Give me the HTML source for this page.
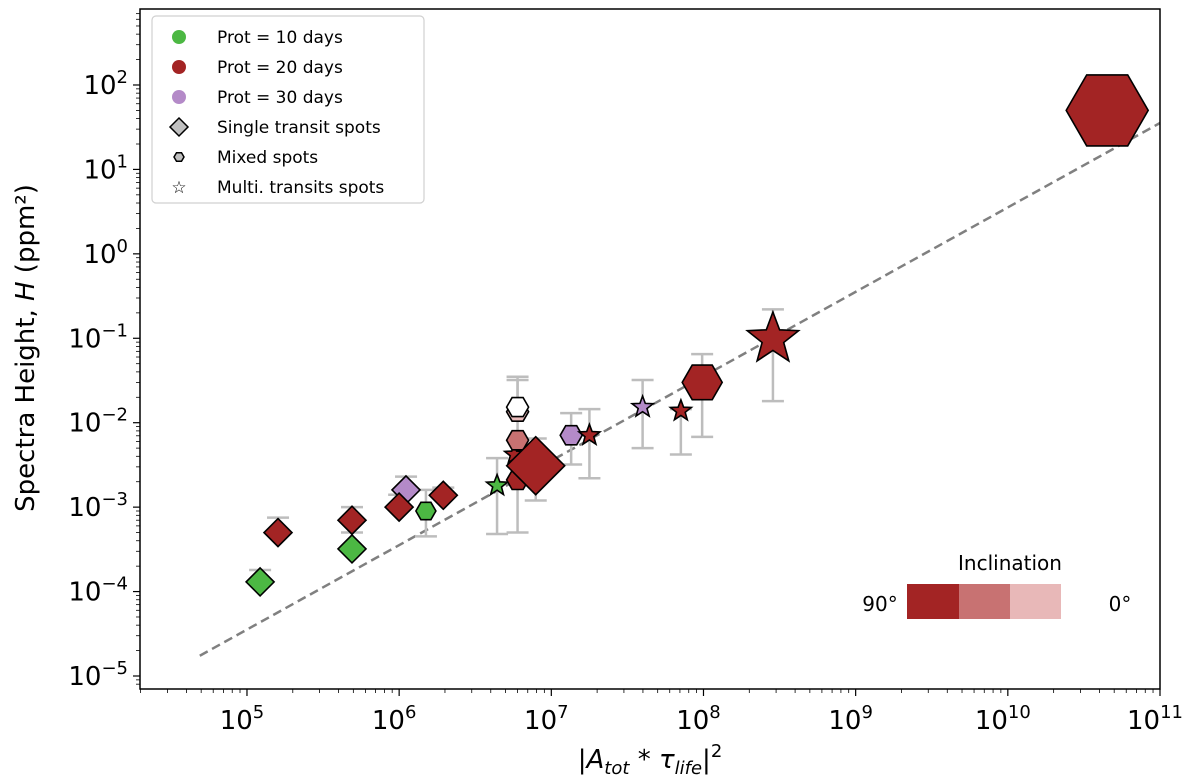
<!DOCTYPE html>
<html><head><meta charset="utf-8"><style>
body{margin:0;background:#fff;}
svg{display:block;font-family:"DejaVu Sans","Liberation Sans",sans-serif;}
</style></head><body>
<svg id="chart" width="1200" height="783"></svg>
<script>
// data arrays
const xVals=[1.22e5,1.6e5,4.9e5,4.9e5,1.11e6,1.0e6,1.5e6,1.95e6,4.4e6,6.0e6,5.7e6,6.0e6,6.0e6,6.0e6,7.9e6,1.35e7,1.78e7,3.98e7,7.1e7,9.8e7,2.86e8,4.5e10];
const hVals=[1.3e-4,5.0e-4,7.0e-4,3.2e-4,1.6e-3,1.0e-3,9.0e-4,1.38e-3,1.8e-3,2.1e-3,4.2e-3,6.2e-3,1.35e-2,1.53e-2,3.1e-3,7.1e-3,7.1e-3,1.53e-2,1.38e-2,3.0e-2,9.8e-2,50];
const errLo=[null,null,null,null,null,null,4.5e-4,null,4.8e-4,5e-4,null,null,null,null,1.2e-3,3.2e-3,2.2e-3,5.0e-3,4.2e-3,6.8e-3,1.8e-2,null];
const errHi=[1.8e-4,7.5e-4,1.0e-3,5.0e-4,2.3e-3,1.4e-3,1.6e-3,1.7e-3,3.8e-3,3.5e-2,null,null,3.2e-2,null,6.5e-3,1.3e-2,1.45e-2,3.2e-2,1.45e-2,6.5e-2,2.2e-1,null];
const colors=["#4cb843","#a32424","#a32424","#4cb843","#b48ac8","#a32424","#4cb843","#a32424","#4cb843","#a32424","#a32424","#c87272","#eababa","#ffffff","#a32424","#b48ac8","#a32424","#b48ac8","#a32424","#a32424","#a32424","#a32424"];
const shapes=["D","D","D","D","D","D","H","D","S","H","S","H","H","H","D","H","S","S","S","H","S","H"];
const sizes=[14,14,14,14,14,14,10,14,11,11,10,11,11,11,29,11,11,11,11,20,27,41];
const xTickExp=[5,6,7,8,9,10,11];
const yTickExp=[2,1,0,-1,-2,-3,-4,-5];
const fitSlope=1.0, fitIntercept=-9.45, fitRange=[4.69,11];

const L=140,R=1160,T=9,B=689;
const xmin=4.297,xmax=11,ymin=-5.154,ymax=2.9;
const sx=v=>L+(Math.log10(v)-xmin)/(xmax-xmin)*(R-L);
const sy=v=>B-(Math.log10(v)-ymin)/(ymax-ymin)*(B-T);
const NS="http://www.w3.org/2000/svg";
const svg=document.getElementById('chart');
function mk(t,a,p){const e=document.createElementNS(NS,t);for(const k in a)e.setAttribute(k,a[k]);(p||svg).appendChild(e);return e;}

// ticks
const tg=mk('g',{});


for(let d=4;d<=11;d++){for(let m=1;m<10;m++){const v=m*Math.pow(10,d);const l=Math.log10(v);if(l<xmin||l>xmax)continue;const x=sx(v);mk('line',{x1:x,x2:x,y1:B,y2:B+(m==1?7:4),stroke:'#000','stroke-width':m==1?1.2:0.8},tg);}}
for(let d=-6;d<=2;d++){for(let m=1;m<10;m++){const v=m*Math.pow(10,d);const l=Math.log10(v);if(l<ymin||l>ymax)continue;const y=sy(v);mk('line',{x1:L,x2:L-(m==1?7:4),y1:y,y2:y,stroke:'#000','stroke-width':m==1?1.2:0.8},tg);}}
xTickExp.forEach(e=>{const t=mk('text',{x:sx(Math.pow(10,e))-5,y:B+40,'text-anchor':'middle','font-size':26},tg);t.innerHTML='10<tspan dy="-11" font-size="18">'+e+'</tspan>';});
yTickExp.forEach(e=>{const t=mk('text',{x:L-12,y:sy(Math.pow(10,e))+9,'text-anchor':'end','font-size':26},tg);t.innerHTML='10<tspan dy="-11" font-size="18">'+(e<0?'\u2212'+(-e):e)+'</tspan>';});

// fit line
const fl=mk('line',{x1:sx(Math.pow(10,fitRange[0])),y1:sy(Math.pow(10,fitSlope*fitRange[0]+fitIntercept)),x2:sx(Math.pow(10,fitRange[1])),y2:sy(Math.pow(10,fitSlope*fitRange[1]+fitIntercept)),stroke:'#808080','stroke-width':2.5,'stroke-dasharray':'9,5'});



// error bars
xVals.forEach((xv,i)=>{const x=sx(xv);const lo=errLo[i],hi=errHi[i];const y0=sy(hVals[i]);
 const y1=hi?sy(hi):y0, y2=lo?sy(lo):y0; if(!hi&&!lo)return;
 const g=mk('g',{stroke:'#bdbdbd','stroke-width':2.5});
 
 
 mk('line',{x1:x,x2:x,y1:y1,y2:y2},g);
 if(hi)mk('line',{x1:x-11,x2:x+11,y1:y1,y2:y1},g);
 if(lo)mk('line',{x1:x-11,x2:x+11,y1:y2,y2:y2},g);});

function shapePts(s,cx,cy,r){let p=[];
 if(s=='D')p=[[cx,cy-r],[cx+r,cy],[cx,cy+r],[cx-r,cy]];
 else if(s=='H'){for(let k=0;k<6;k++){const a=k*Math.PI/3;p.push([cx+r*Math.cos(a),cy+r*Math.sin(a)]);}}
 else {for(let k=0;k<10;k++){const a=-Math.PI/2+k*Math.PI/5;const rr=k%2?r*0.42:r;p.push([cx+rr*Math.cos(a),cy+rr*Math.sin(a)]);}}
 return p.map(q=>q[0].toFixed(1)+','+q[1].toFixed(1)).join(' ');}
// markers
xVals.forEach((xv,i)=>{const m=mk('polygon',{points:shapePts(shapes[i],sx(xv),sy(hVals[i]),sizes[i]),fill:colors[i],stroke:'#000','stroke-width':1.6,'stroke-linejoin':'miter'});
 
 });

// frame
const fr=mk('rect',{x:L,y:T,width:R-L,height:B-T,fill:'none',stroke:'#000','stroke-width':1.5});


</script>
<svg style="position:absolute;left:0;top:0" width="1200" height="783">
<text x="34" y="348" font-size="26" text-anchor="middle" transform="rotate(-90 34 348)" font-family="DejaVu Sans,sans-serif">Spectra Height, <tspan font-style="italic">H</tspan> (ppm²)</text>
<text x="650" y="768" font-size="26" text-anchor="middle" font-family="DejaVu Sans,sans-serif">|<tspan font-style="italic">A</tspan><tspan font-style="italic" font-size="18" dy="6">tot</tspan><tspan dy="-6"> * </tspan><tspan font-style="italic">τ</tspan><tspan font-style="italic" font-size="18" dy="6">life</tspan><tspan dy="-6">|</tspan><tspan dy="-11" font-size="18">2</tspan></text>
<g font-family="DejaVu Sans,sans-serif" font-size="17">
<rect x="152" y="16" width="272" height="187" rx="4" fill="#fff" stroke="#d0d0d0" stroke-width="1.2"/>
<circle cx="179" cy="37" r="7" fill="#4cb843"/><text x="217" y="43">Prot = 10 days</text>
<circle cx="179" cy="67" r="7" fill="#a32424"/><text x="217" y="73">Prot = 20 days</text>
<circle cx="179" cy="97" r="7" fill="#b48ac8"/><text x="217" y="103">Prot = 30 days</text>
<polygon points="179,118 188,127 179,136 170,127" fill="#c0c0c0" stroke="#000" stroke-width="1.5"/><text x="217" y="133">Single transit spots</text>
<polygon points="184,157 181.5,161.3 176.5,161.3 174,157 176.5,152.7 181.5,152.7" fill="#c0c0c0" stroke="#000" stroke-width="1.5"/><text x="217" y="163">Mixed spots</text>
<text x="179" y="193" text-anchor="middle" font-size="17">☆</text><text x="217" y="193">Multi. transits spots</text>
</g>
<g font-family="DejaVu Sans,sans-serif" font-size="20">
<text x="1010" y="570" text-anchor="middle">Inclination</text>
<rect x="907" y="584" width="52" height="35" fill="#a32424"/>
<rect x="959" y="584" width="51" height="35" fill="#c87272"/>
<rect x="1010" y="584" width="51" height="35" fill="#e8b8b8"/>
<text x="880" y="611" text-anchor="middle">90°</text>
<text x="1120" y="611" text-anchor="middle">0°</text>
</g>
</svg>
</body></html>
